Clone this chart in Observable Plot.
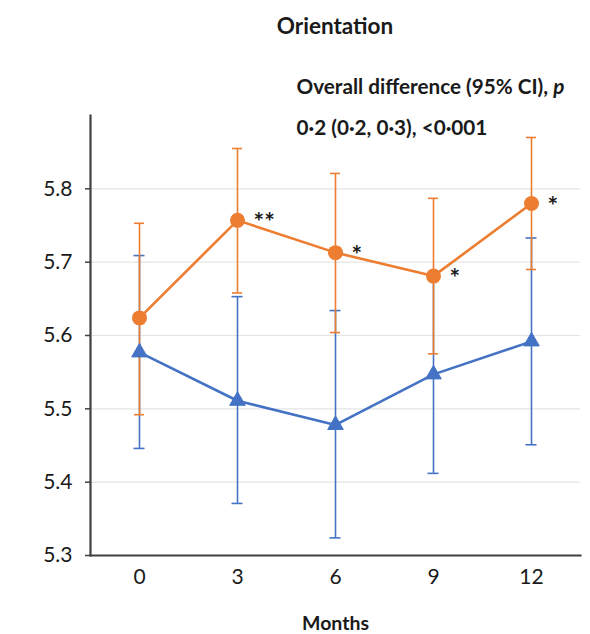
<!DOCTYPE html>
<html>
<head>
<meta charset="utf-8">
<script src="https://cdn.jsdelivr.net/npm/d3@7"></script>
<script src="https://cdn.jsdelivr.net/npm/@observablehq/plot@0.6"></script>
<style>
  body { margin: 0; background: #fff; font-family: Lato, "Open Sans", sans-serif; }
  #title { height: 52px; line-height: 52px; box-sizing: border-box; padding-left: 80px; text-align: center;
           font-weight: bold; font-size: 22.5px; color: #1a1a1a; width: 590px; }
  #chart svg g[aria-label$="tick label"] text { font-size: 21px !important; }
</style>
</head>
<body>
<div id="title">Orientation</div>
<div id="chart"></div>
<script>
const months = [0, 3, 6, 9, 12];
const interventionMean = [5.624, 5.757, 5.713, 5.681, 5.780];
const interventionLow  = [5.492, 5.658, 5.604, 5.575, 5.690];
const interventionHigh = [5.753, 5.855, 5.821, 5.787, 5.870];
const controlMean = [5.577, 5.511, 5.478, 5.547, 5.592];
const controlLow  = [5.446, 5.371, 5.324, 5.412, 5.451];
const controlHigh = [5.709, 5.653, 5.634, 5.682, 5.733];
const stars = ["", "**", "*", "*", "*"];
const yTicks = [5.3, 5.4, 5.5, 5.6, 5.7, 5.8];
const gridTicks = [5.4, 5.5, 5.6, 5.7, 5.8];
const xLabel = "Months";
const noteLine1 = "Overall difference (95% CI), ";
const noteP = "p";
const noteLine2 = "0·2 (0·2, 0·3), <0·001";

const ORANGE = "#ED7D31";
const BLUE = "#4472C4";
const AXIS = "#404040";
const INK = "#1a1a1a";

const rows = months.map((m, i) => ({
  month: m,
  iMean: interventionMean[i], iLow: interventionLow[i], iHigh: interventionHigh[i],
  cMean: controlMean[i], cLow: controlLow[i], cHigh: controlHigh[i],
  star: stars[i]
}));

const CAP = 43.5; // inset so caps are ~11px wide inside a 98px band

const chart = Plot.plot({
  width: 590,
  height: 582,
  marginLeft: 90,
  marginRight: 10,
  marginTop: 63,
  marginBottom: 79,
  style: { fontFamily: "Lato, 'Open Sans', sans-serif", fontSize: "18px", color: INK, background: "#fff" },
  x: { type: "band", domain: months, padding: 0 },
  y: { domain: [5.3, 5.9] },
  marks: [
    Plot.gridY(gridTicks, { stroke: "#e4e4e4", strokeOpacity: 1, strokeWidth: 1.2 }),
    Plot.axisY(yTicks, { tickSize: 5, tickPadding: 13, stroke: AXIS, strokeWidth: 1.5, tickFormat: d3.format(".1f"), fill: INK, label: null }),
    Plot.axisX({ tickSize: 0, tickPadding: 14, fill: INK, label: null }),
    Plot.frame({ anchor: "left", stroke: AXIS, strokeWidth: 2.2 }),
    Plot.frame({ anchor: "bottom", stroke: AXIS, strokeWidth: 2.2 }),
    // control error bars
    Plot.ruleX(rows, { x: "month", y1: "cLow", y2: "cHigh", stroke: BLUE, strokeWidth: 1.6 }),
    Plot.tickY(rows, { x: "month", y: "cLow", stroke: BLUE, strokeWidth: 1.6, insetLeft: CAP, insetRight: CAP }),
    Plot.tickY(rows, { x: "month", y: "cHigh", stroke: BLUE, strokeWidth: 1.6, insetLeft: CAP, insetRight: CAP }),
    // intervention error bars
    Plot.ruleX(rows, { x: "month", y1: "iLow", y2: "iHigh", stroke: ORANGE, strokeWidth: 1.6 }),
    Plot.tickY(rows, { x: "month", y: "iLow", stroke: ORANGE, strokeWidth: 1.6, insetLeft: CAP + 0.5, insetRight: CAP + 0.5 }),
    Plot.tickY(rows, { x: "month", y: "iHigh", stroke: ORANGE, strokeWidth: 1.6, insetLeft: CAP + 0.5, insetRight: CAP + 0.5 }),
    // control series
    Plot.line(rows, { x: "month", y: "cMean", stroke: BLUE, strokeWidth: 2.6 }),
    Plot.dot(rows, { x: "month", y: "cMean", symbol: "triangle", r: 5.8, fill: BLUE, stroke: BLUE, strokeWidth: 1 }),
    // intervention series
    Plot.line(rows, { x: "month", y: "iMean", stroke: ORANGE, strokeWidth: 2.6 }),
    Plot.dot(rows, { x: "month", y: "iMean", r: 7.5, fill: ORANGE }),
    // significance stars
    Plot.text(rows.filter(d => d.star), { x: "month", y: "iMean", text: "star", dx: 16, dy: 3, textAnchor: "start", fontSize: 25, fontWeight: "bold", fill: INK }),
    // annotation
    Plot.text([noteLine1], { frameAnchor: "top-left", dx: 206, dy: -28, textAnchor: "start", lineAnchor: "middle", fontSize: 20.7, fontWeight: "bold", fill: INK, className: "note1" }),
    Plot.text([noteLine2], { frameAnchor: "top-left", dx: 206, dy: 13, textAnchor: "start", lineAnchor: "middle", fontSize: 20.7, fontWeight: "bold", fill: INK }),
    Plot.text([xLabel], { frameAnchor: "bottom", dy: 68, lineAnchor: "middle", fontSize: 19.5, fontWeight: "bold", fill: INK })
  ]
});

document.getElementById("chart").appendChild(chart);
// add italic p to the annotation
d3.select(chart).selectAll("g.note1 text").each(function () {
  const t = d3.select(this);
  t.text(null);
  t.append("tspan").text(noteLine1);
  t.append("tspan").attr("font-style", "italic").text(noteP);
});
</script>
</body>
</html>
